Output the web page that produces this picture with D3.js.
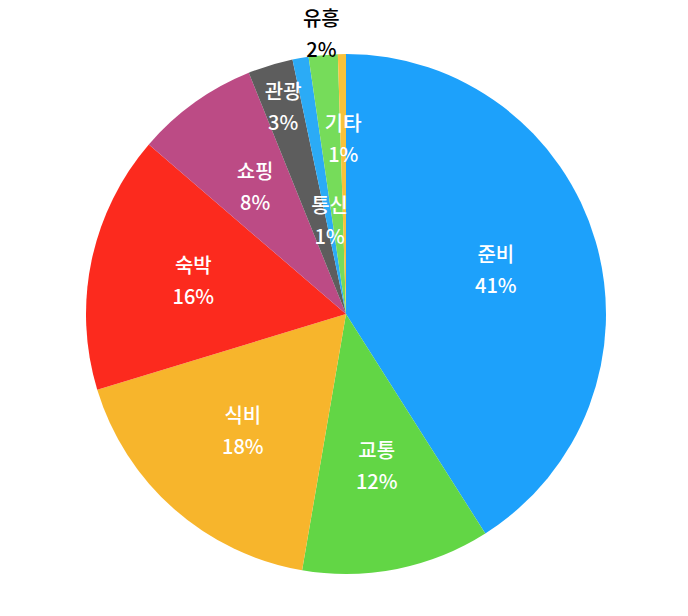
<!DOCTYPE html>
<html>
<head>
<meta charset="utf-8">
<script src="https://cdn.jsdelivr.net/npm/d3@7"></script>
<style>
  body { margin: 0; background: #fff; }
  svg text { font-family: "Noto Sans CJK KR", "Noto Sans", sans-serif; font-weight: 500; }
</style>
</head>
<body>
<svg id="chart" width="688" height="616"></svg>
<script>
// slice data, clockwise from 12 o'clock
var categories = ['준비', '교통', '식비', '숙박', '쇼핑', '관광', '통신', '유흥', '기타'];
var values = [41.0, 11.7, 17.6, 16.0, 7.6, 2.8, 1.0, 1.8, 0.5];
var colors = ['#1da1fb', '#62d645', '#f7b52c', '#fc2a1e', '#bc4b85', '#5d5d5d', '#2babf6', '#76dc5a', '#f8c23b'];

var width = 688, height = 616;
var cx = 346, cy = 314, radius = 260;

// label distance from centre, as fraction of radius (small slices pushed apart)
var labelPos = [0.6, 0.6, 0.6, 0.6, 0.6, 0.83, 0.36, 1.08, 0.67];

var total = d3.sum(values);
var data = categories.map(function(c, i) {
  return {name: c, value: values[i], color: colors[i], lr: labelPos[i]};
});

var pie = d3.pie()
    .sort(null)
    .value(function(d) { return d.value; });

var arc = d3.arc()
    .innerRadius(0)
    .outerRadius(radius);

var svg = d3.select('#chart');
var g = svg.append('g')
    .attr('transform', 'translate(' + cx + ',' + cy + ')');

var arcs = pie(data);

g.selectAll('path')
    .data(arcs)
    .enter().append('path')
    .attr('d', arc)
    .style('fill', function(d) { return d.data.color; });

var labels = g.selectAll('g.label')
    .data(arcs)
    .enter().append('g')
    .attr('class', 'label')
    .attr('transform', function(d) {
      var r = radius * d.data.lr;
      var a = (d.startAngle + d.endAngle) / 2;
      return 'translate(' + (Math.sin(a) * r) + ',' + (-Math.cos(a) * r) + ')';
    })
    .style('fill', function(d) { return d.data.lr > 1 ? '#000' : '#fff'; });

labels.append('text')
    .attr('y', -15.5)
    .attr('dy', '.35em')
    .style('text-anchor', 'middle')
    .style('font-size', '20px')
    .text(function(d) { return d.data.name; });

labels.append('text')
    .attr('y', 15.5)
    .attr('dy', '.35em')
    .style('text-anchor', 'middle')
    .style('font-size', '20px')
    .text(function(d) { return Math.round(d.data.value / total * 100) + '%'; });
</script>
</body>
</html>
